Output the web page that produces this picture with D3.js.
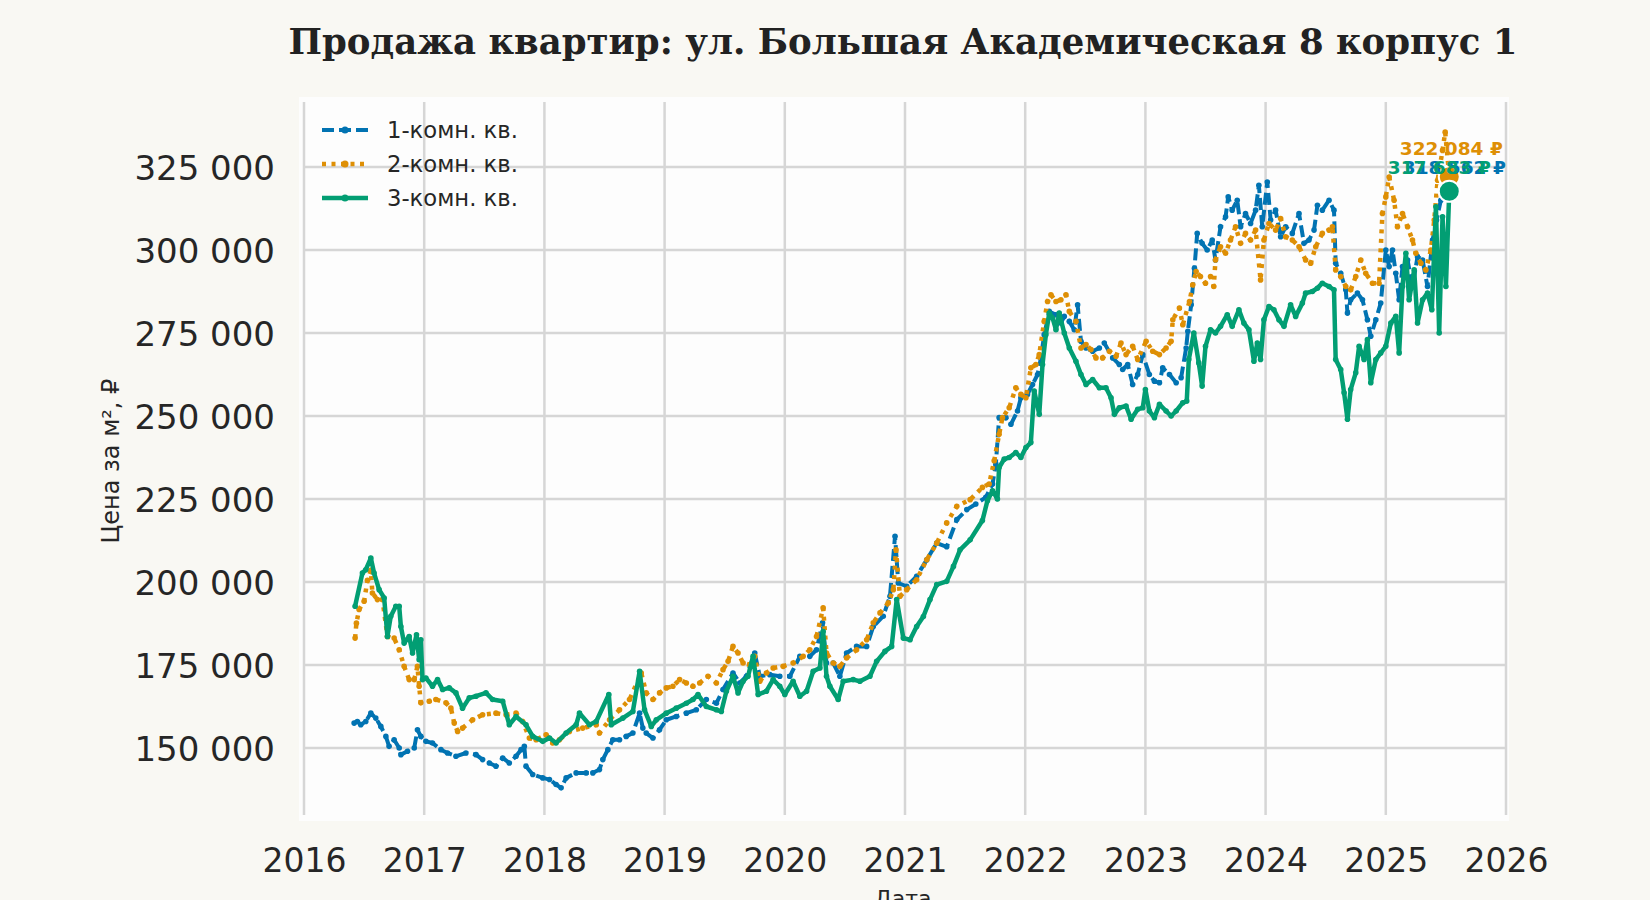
<!DOCTYPE html>
<html>
<head>
<meta charset="utf-8">
<script src="https://cdn.jsdelivr.net/npm/d3@7"></script>
<style>
  html, body { margin: 0; padding: 0; background: #f9f8f3; }
  svg { display: block; }
</style>
</head>
<body>
<svg id="chart" width="1650" height="900"></svg>
<script>
//
// DATA  (decimal year, price per m²)
//
const oneRoom = [
    [2016.417,157500],[2016.444,158000],[2016.472,157000],[2016.514,158000],[2016.556,160500],
    [2016.597,159000],[2016.639,156500],[2016.681,153500],[2016.708,150500],[2016.750,152500],
    [2016.792,150000],[2016.806,148000],[2016.861,149000],[2016.917,150000],[2016.944,155500],
    [2016.972,153500],[2017.014,152000],[2017.069,151500],[2017.139,149500],[2017.194,148500],
    [2017.264,147500],[2017.347,148500],[2017.431,148000],[2017.486,146500],[2017.542,145500],
    [2017.597,144500],[2017.653,147000],[2017.708,145500],[2017.764,147500],[2017.806,149500],
    [2017.833,150500],[2017.847,144500],[2017.903,142000],[2017.986,141000],[2018.042,140500],
    [2018.097,139000],[2018.139,138000],[2018.181,141000],[2018.264,142500],[2018.347,142500],
    [2018.403,142500],[2018.458,143500],[2018.486,146500],[2018.528,149500],[2018.569,152500],
    [2018.625,152500],[2018.681,153500],[2018.736,154500],[2018.792,160500],[2018.819,156000],
    [2018.847,154500],[2018.903,153000],[2018.958,155500],[2019.014,158500],[2019.097,159500],
    [2019.181,160500],[2019.264,161500],[2019.347,164600],[2019.431,163500],[2019.486,167600],
    [2019.569,172600],[2019.625,169600],[2019.681,171600],[2019.750,178600],[2019.792,171600],
    [2019.875,172100],[2019.958,171600],[2020.042,171600],[2020.125,177600],[2020.208,177600],
    [2020.264,179600],[2020.314,187700],[2020.347,175600],[2020.403,175600],[2020.458,171600],
    [2020.514,178600],[2020.597,180600],[2020.681,180600],[2020.736,186600],[2020.819,189700],
    [2020.875,195700],[2020.917,213800],[2020.944,199700],[2021.014,198700],[2021.097,201700],
    [2021.181,206700],[2021.264,211700],[2021.347,210600],[2021.431,218800],[2021.514,221800],
    [2021.589,223500],[2021.672,225500],[2021.728,229500],[2021.756,235500],[2021.783,249500],
    [2021.839,249500],[2021.881,247500],[2021.936,251500],[2021.964,255500],[2022.019,256500],
    [2022.061,259500],[2022.103,262500],[2022.131,267500],[2022.158,274500],[2022.200,281500],
    [2022.256,280500],[2022.297,278000],[2022.325,280000],[2022.367,278500],[2022.408,276000],
    [2022.436,283500],[2022.464,272500],[2022.506,270500],[2022.561,269500],[2022.617,270500],
    [2022.658,272000],[2022.728,267500],[2022.783,265500],[2022.811,264000],[2022.853,265500],
    [2022.894,259500],[2022.936,262500],[2022.978,268500],[2023.033,262500],[2023.075,260500],
    [2023.117,260000],[2023.144,264500],[2023.200,262500],[2023.256,260000],[2023.297,261500],
    [2023.339,270500],[2023.353,275500],[2023.381,283500],[2023.408,294500],[2023.431,305000],
    [2023.472,302000],[2023.514,300000],[2023.556,303000],[2023.583,297000],[2023.625,307000],
    [2023.667,310000],[2023.689,316000],[2023.722,312000],[2023.764,315000],[2023.792,307000],
    [2023.833,311000],[2023.875,308000],[2023.917,312000],[2023.944,319500],[2023.972,307000],
    [2024.014,320500],[2024.042,309000],[2024.083,312000],[2024.125,304000],[2024.167,307000],
    [2024.222,305000],[2024.278,311000],[2024.319,302000],[2024.361,303000],[2024.403,306000],
    [2024.431,313500],[2024.472,312000],[2024.528,315000],[2024.569,312000],[2024.583,296000],
    [2024.625,293000],[2024.667,288000],[2024.681,281000],[2024.708,285000],[2024.764,287000],
    [2024.806,285000],[2024.847,279000],[2024.875,274000],[2024.917,279000],[2024.958,284000],
    [2025.000,300000],[2025.028,295000],[2025.056,300000],[2025.083,293000],[2025.111,285000],
    [2025.139,295000],[2025.181,297000],[2025.222,289000],[2025.264,298000],[2025.306,297000],
    [2025.347,289000],[2025.389,303000],[2025.422,309000],[2025.458,315000],[2025.528,318562]
]

const twoRoom = [
    [2016.425,183100],[2016.436,187600],[2016.458,191700],[2016.500,194200],[2016.528,200500],
    [2016.556,203500],[2016.569,196700],[2016.611,194700],[2016.653,194700],[2016.694,183600],
    [2016.750,183100],[2016.792,179600],[2016.833,174600],[2016.875,170600],[2016.917,170600],
    [2016.944,174600],[2016.958,168600],[2016.972,163600],[2017.042,164100],[2017.097,164600],
    [2017.181,163600],[2017.222,162000],[2017.250,157500],[2017.278,155000],[2017.319,156000],
    [2017.403,158500],[2017.486,160000],[2017.597,160500],[2017.681,160000],[2017.764,160500],
    [2017.819,158000],[2017.875,153000],[2017.931,152500],[2018.014,154000],[2018.069,151500],
    [2018.125,152500],[2018.208,155000],[2018.319,156000],[2018.431,157000],[2018.458,154500],
    [2018.542,158500],[2018.625,161500],[2018.708,164600],[2018.806,172600],[2018.847,166600],
    [2018.903,164600],[2018.958,166600],[2019.014,168100],[2019.069,168600],[2019.125,170600],
    [2019.181,169600],[2019.236,168600],[2019.292,169600],[2019.361,171600],[2019.431,169600],
    [2019.486,173600],[2019.528,176100],[2019.569,180600],[2019.611,178600],[2019.653,175600],
    [2019.708,175100],[2019.750,177600],[2019.792,170100],[2019.847,172600],[2019.903,174100],
    [2019.986,174600],[2020.069,175600],[2020.153,177600],[2020.208,179600],[2020.264,183600],
    [2020.319,192200],[2020.347,178600],[2020.403,175600],[2020.458,174600],[2020.514,177100],
    [2020.597,179600],[2020.681,182600],[2020.736,187700],[2020.792,190700],[2020.861,193700],
    [2020.903,197700],[2020.925,209700],[2020.958,195700],[2021.014,197700],[2021.097,200700],
    [2021.181,206700],[2021.264,211700],[2021.347,217800],[2021.431,222800],[2021.542,224800],
    [2021.644,228500],[2021.700,229500],[2021.742,236500],[2021.783,244500],[2021.811,249500],
    [2021.867,252500],[2021.922,258500],[2021.964,256500],[2022.006,255500],[2022.047,264500],
    [2022.089,265500],[2022.117,268500],[2022.158,278500],[2022.186,284500],[2022.214,286500],
    [2022.256,284500],[2022.297,285000],[2022.339,286500],[2022.367,281500],[2022.422,278500],
    [2022.464,270500],[2022.506,271500],[2022.547,270000],[2022.589,267500],[2022.644,267500],
    [2022.700,269500],[2022.756,268000],[2022.797,272000],[2022.839,268500],[2022.894,271000],
    [2022.936,267000],[2023.006,272500],[2023.061,269500],[2023.117,268500],[2023.172,270500],
    [2023.214,272500],[2023.228,279000],[2023.283,282500],[2023.311,277500],[2023.367,284500],
    [2023.394,289500],[2023.422,293500],[2023.458,292000],[2023.500,290000],[2023.542,292000],
    [2023.569,289000],[2023.583,297000],[2023.625,301000],[2023.667,299000],[2023.708,303000],
    [2023.750,307000],[2023.792,302000],[2023.833,305000],[2023.875,303000],[2023.917,306000],
    [2023.958,291000],[2023.986,303000],[2024.028,308000],[2024.083,306000],[2024.125,309500],
    [2024.167,304000],[2024.222,303000],[2024.278,301000],[2024.333,297000],[2024.375,296000],
    [2024.417,301000],[2024.472,305000],[2024.528,306000],[2024.556,307000],[2024.583,294000],
    [2024.625,292000],[2024.667,289000],[2024.708,288000],[2024.750,292000],[2024.792,297000],
    [2024.833,293000],[2024.889,290000],[2024.944,290000],[2024.972,311000],[2025.000,316000],
    [2025.028,322000],[2025.069,315000],[2025.097,307000],[2025.139,311000],[2025.181,307000],
    [2025.222,303000],[2025.250,299000],[2025.292,296000],[2025.333,294000],[2025.375,300000],
    [2025.403,309000],[2025.431,321000],[2025.472,330000],[2025.494,335500],[2025.528,322084]
]

const threeRoom = [
    [2016.425,192700],[2016.486,202700],[2016.514,203700],[2016.556,207200],[2016.583,202700],
    [2016.625,197700],[2016.667,195200],[2016.694,183600],[2016.722,189700],[2016.764,192700],
    [2016.792,192700],[2016.806,186600],[2016.833,181600],[2016.875,183600],[2016.903,178600],
    [2016.936,184100],[2016.958,176600],[2016.972,182600],[2016.986,170600],[2017.014,171100],
    [2017.069,168600],[2017.111,170600],[2017.153,167600],[2017.208,168100],[2017.264,166600],
    [2017.319,162000],[2017.375,165100],[2017.431,165600],[2017.514,166600],[2017.569,164600],
    [2017.653,164100],[2017.708,157000],[2017.764,159500],[2017.847,157000],[2017.903,153500],
    [2017.986,152000],[2018.042,153000],[2018.097,151500],[2018.181,154500],[2018.264,157000],
    [2018.292,160500],[2018.375,157000],[2018.431,158000],[2018.536,166100],[2018.556,157000],
    [2018.653,159000],[2018.736,161000],[2018.792,173100],[2018.833,161500],[2018.889,156500],
    [2018.931,158500],[2019.014,160500],[2019.097,162000],[2019.181,163500],[2019.236,164600],
    [2019.278,166100],[2019.347,162500],[2019.431,161500],[2019.472,161000],[2019.514,167100],
    [2019.569,171600],[2019.611,166600],[2019.653,170100],[2019.694,171600],[2019.736,177600],
    [2019.778,166100],[2019.847,167100],[2019.903,170600],[2019.958,168600],[2020.000,166100],
    [2020.069,170100],[2020.125,165600],[2020.181,167100],[2020.236,173100],[2020.292,174100],
    [2020.319,185100],[2020.347,171600],[2020.375,168600],[2020.444,164600],[2020.486,170100],
    [2020.569,170600],[2020.625,170100],[2020.708,171600],[2020.764,176100],[2020.833,179100],
    [2020.889,180600],[2020.931,194700],[2020.986,183100],[2021.042,182600],[2021.097,186600],
    [2021.153,189600],[2021.208,194700],[2021.264,199200],[2021.347,200200],[2021.403,204700],
    [2021.458,209700],[2021.542,212700],[2021.644,218500],[2021.686,224500],[2021.728,227500],
    [2021.769,225000],[2021.783,234500],[2021.825,237000],[2021.867,237500],[2021.922,239000],
    [2021.964,237500],[2022.006,240500],[2022.047,242000],[2022.075,257500],[2022.117,250500],
    [2022.144,265500],[2022.172,274500],[2022.200,281000],[2022.228,279500],[2022.256,276000],
    [2022.283,281000],[2022.325,275000],[2022.367,270500],[2022.422,266500],[2022.464,262500],
    [2022.506,259500],[2022.561,261000],[2022.617,258500],[2022.672,258500],[2022.714,255500],
    [2022.742,250500],[2022.783,252500],[2022.839,253000],[2022.881,249000],[2022.936,252000],
    [2022.978,252500],[2023.000,258000],[2023.033,251500],[2023.075,249500],[2023.117,253500],
    [2023.172,251500],[2023.214,250000],[2023.256,251500],[2023.311,254000],[2023.344,254500],
    [2023.361,267000],[2023.403,275000],[2023.444,266000],[2023.472,259000],[2023.500,271000],
    [2023.542,276000],[2023.583,275000],[2023.625,277000],[2023.681,280500],[2023.722,277000],
    [2023.778,282000],[2023.819,278000],[2023.861,276000],[2023.903,266500],[2023.931,272000],
    [2023.958,267000],[2023.986,279000],[2024.028,283000],[2024.069,282000],[2024.111,279000],
    [2024.153,277000],[2024.208,283500],[2024.250,280000],[2024.306,284000],[2024.333,287000],
    [2024.389,287500],[2024.431,288500],[2024.472,290000],[2024.528,289000],[2024.569,288000],
    [2024.583,267000],[2024.625,264000],[2024.653,257000],[2024.681,249000],[2024.708,258000],
    [2024.750,263000],[2024.778,271000],[2024.819,267000],[2024.847,273000],[2024.875,260000],
    [2024.917,267000],[2024.958,269000],[2025.000,271000],[2025.042,278000],[2025.083,280000],
    [2025.111,269000],[2025.139,289000],[2025.167,299000],[2025.194,285000],[2025.236,294000],
    [2025.264,278000],[2025.306,285000],[2025.347,287000],[2025.383,282000],[2025.417,313000],
    [2025.444,275000],[2025.472,310000],[2025.500,289000],[2025.528,317683]
]

const seriesNames = ['1-комн. кв.', '2-комн. кв.', '3-комн. кв.']
const yearTicks = [2016, 2017, 2018, 2019, 2020, 2021, 2022, 2023, 2024, 2025, 2026]
const priceTicks = [150000, 175000, 200000, 225000, 250000, 275000, 300000, 325000]

//
// SETUP
//
const svg = d3.select('#chart')
const ru = d3.formatLocale({ decimal: ',', thousands: ' ', grouping: [3], currency: ['', ' ₽'] })
const fmt = ru.format(',.0f')

const x = d3.scaleLinear().domain([2016, 2026]).range([304, 1506])
const y = d3.scaleLinear().domain([150000, 325000]).range([748, 167])
const gridTop = 102
const gridBottom = 815

const styles = [
    { color: '#0173b2', width: 4, dash: '12,5', labelDx: 5, labelDy: -14 },
    { color: '#de8f05', width: 4.5, dash: '4,5.5', labelDx: 2, labelDy: -22 },
    { color: '#029e73', width: 4.5, dash: null, labelDx: -10, labelDy: -17 }
]
const allSeries = [oneRoom, twoRoom, threeRoom]

// plot background
svg.append('rect')
    .attr('x', 299).attr('y', 97)
    .attr('width', 1210).attr('height', 724)
    .attr('fill', '#fdfdfd')

// grid lines
const grid = svg.append('g').attr('stroke', '#d6d6d6').attr('stroke-width', 2.5)
grid.selectAll('line.v')
    .data(yearTicks)
    .enter()
    .append('line')
    .attr('x1', d => x(d)).attr('x2', d => x(d))
    .attr('y1', gridTop).attr('y2', gridBottom)
grid.selectAll('line.h')
    .data(priceTicks)
    .enter()
    .append('line')
    .attr('x1', x(2016)).attr('x2', x(2026))
    .attr('y1', d => y(d)).attr('y2', d => y(d))

// axes (labels only, no domain lines)
const xAxis = svg.append('g')
    .attr('transform', `translate(0,${gridBottom})`)
    .call(d3.axisBottom(x).tickValues(yearTicks).tickFormat(d3.format('d')).tickSize(0).tickPadding(34))
const yAxis = svg.append('g')
    .attr('transform', 'translate(300,0)')
    .call(d3.axisLeft(y).tickValues(priceTicks).tickFormat(fmt).tickSize(0).tickPadding(25))
;[xAxis, yAxis].forEach(a => {
    a.select('.domain').remove()
    a.selectAll('text')
        .attr('fill', '#262626')
        .style('font-family', 'DejaVu Sans')
})
xAxis.selectAll('text').style('font-size', '33px')
yAxis.selectAll('text').style('font-size', '34px').attr('dy', '0.36em')

// axis titles
svg.append('text')
    .attr('transform', 'translate(119,461) rotate(-90)')
    .attr('text-anchor', 'middle')
    .attr('fill', '#262626')
    .style('font-family', 'DejaVu Sans')
    .style('font-size', '24px')
    .text('Цена за м², ₽')
svg.append('text')
    .attr('x', 903).attr('y', 906)
    .attr('text-anchor', 'middle')
    .attr('fill', '#262626')
    .style('font-family', 'DejaVu Sans')
    .style('font-size', '22px')
    .text('Дата')

// title
svg.append('text')
    .attr('x', 903).attr('y', 54)
    .attr('text-anchor', 'middle')
    .attr('fill', '#222')
    .style('font-family', 'DejaVu Serif')
    .style('font-weight', 'bold')
    .style('font-size', '35.5px')
    .text('Продажа квартир: ул. Большая Академическая 8 корпус 1')

// lines
const line = d3.line().x(d => x(d[0])).y(d => y(d[1]))
const plot = svg.append('g')
allSeries.forEach((data, i) => {
    const st = styles[i]
    const g = plot.append('g')
    g.append('path')
        .attr('d', line(data))
        .attr('fill', 'none')
        .attr('stroke', st.color)
        .attr('stroke-width', st.width)
        .attr('stroke-dasharray', st.dash)
        .attr('stroke-linejoin', 'round')
    g.selectAll('circle')
        .data(data)
        .enter()
        .append('circle')
        .attr('cx', d => x(d[0]))
        .attr('cy', d => y(d[1]))
        .attr('r', 2.8)
        .attr('fill', st.color)
})

// end markers and labels
allSeries.forEach((data, i) => {
    const st = styles[i]
    const last = data[data.length - 1]
    plot.append('circle')
        .attr('cx', x(last[0])).attr('cy', y(last[1]))
        .attr('r', 10.5)
        .attr('fill', st.color)
        .attr('stroke', '#fff')
        .attr('stroke-width', 2)
})
allSeries.forEach((data, i) => {
    const st = styles[i]
    const last = data[data.length - 1]
    plot.append('text')
        .attr('x', x(last[0]) + st.labelDx)
        .attr('y', y(last[1]) + st.labelDy)
        .attr('text-anchor', 'middle')
        .attr('fill', st.color)
        .style('font-family', 'DejaVu Sans')
        .style('font-weight', 'bold')
        .style('font-size', '18.5px')
        .text(fmt(last[1]) + ' ₽')
})

// legend
const legend = svg.append('g').attr('transform', 'translate(322,130)')
seriesNames.forEach((name, i) => {
    const st = styles[i]
    const row = legend.append('g').attr('transform', `translate(0,${i * 34})`)
    row.append('line')
        .attr('x1', 0).attr('x2', 46)
        .attr('stroke', st.color)
        .attr('stroke-width', st.width)
        .attr('stroke-dasharray', st.dash)
    row.append('circle').attr('cx', 23).attr('r', 3.5).attr('fill', st.color)
    row.append('text')
        .attr('x', 65).attr('dy', '0.35em')
        .attr('fill', '#262626')
        .style('font-family', 'DejaVu Sans')
        .style('font-size', '22.7px')
        .text(name)
})
</script>
</body>
</html>
